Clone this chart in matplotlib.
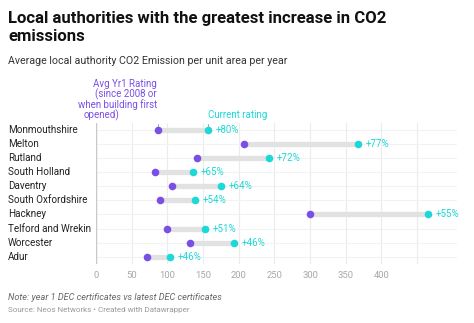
import matplotlib
matplotlib.use('Agg')
import matplotlib.pyplot as plt
from matplotlib.transforms import blended_transform_factory

plt.rcParams['font.family'] = ['Roboto', 'DejaVu Sans']

# данные
authorities = ['Monmouthshire', 'Melton', 'Rutland', 'South Holland', 'Daventry',
               'South Oxfordshire', 'Hackney', 'Telford and Wrekin', 'Worcester', 'Adur']
yr1_rating = [87, 207, 141, 83, 107, 90, 300, 100, 132, 71]
current_rating = [157, 367, 243, 136, 175, 139, 466, 153, 194, 104]
increase = ['+80%', '+77%', '+72%', '+65%', '+64%', '+54%', '+55%', '+51%', '+46%', '+46%']
x_ticks = [0, 50, 100, 150, 200, 250, 300, 350, 400]

purple = '#7a4fe6'
cyan = '#1cd8d8'

fig = plt.figure(figsize=(4.74, 3.23), dpi=100)
W, H = 474, 323
ax = fig.add_axes([96 / W, 1 - 263.7 / H, (457 - 96) / W, (263.7 - 123) / H])

rows = list(range(len(authorities)))
ax.set_xlim(0, 506)
ax.set_ylim(len(authorities) - 0.5, -0.5)

# сетка
for t in x_ticks + [450]:
    ax.axvline(t, color='#ececec', lw=0.8, zorder=0)
for r in rows:
    ax.axhline(r, color='#f2f2f2', lw=0.8, zorder=0)
ax.axvline(0, color='#c8c8c8', lw=1.0, zorder=1)

# полосы и точки
for r, a, b, p in zip(rows, yr1_rating, current_rating, increase):
    ax.plot([a, b], [r, r], color='#e2e2e2', lw=3.8, solid_capstyle='butt', zorder=2)
    ax.annotate(p, (b, r), xytext=(5.5, 0), textcoords='offset points',
                va='center', ha='left', fontsize=7, color=cyan)
ax.scatter(yr1_rating, rows, s=30, color=purple, zorder=3, linewidths=0)
ax.scatter(current_rating, rows, s=30, color=cyan, zorder=3, linewidths=0)

for s in ax.spines.values():
    s.set_visible(False)
ax.set_yticks([])
ax.set_xticks(x_ticks)
ax.set_xticklabels([str(t) for t in x_ticks], fontsize=6.8, color='#a8a8a8')
ax.tick_params(axis='x', length=0, pad=5)

# подписи строк
tr = blended_transform_factory(fig.transFigure, ax.transData)
for r, name in zip(rows, authorities):
    ax.text(8 / W, r, name, transform=tr, ha='left', va='center', fontsize=7.1, color='#222222')

# аннотации
ax.plot([yr1_rating[0], yr1_rating[0]], [-0.45, -0.15], color='#999999', lw=0.6, clip_on=False)
ax.plot([current_rating[0], current_rating[0]], [-0.45, -0.15], color='#999999', lw=0.6, clip_on=False)
for txt, yy in [('Avg Yr1 Rating', 84), ('(since 2008 or', 94.5), ('when building first', 105)]:
    fig.text(157 / W, 1 - yy / H, txt, ha='right', va='center', fontsize=7, color=purple)
fig.text(84 / W, 1 - 115.5 / H, 'opened)', ha='left', va='center', fontsize=7, color=purple)
fig.text(208 / W, 1 - 115.5 / H, 'Current rating', ha='left', va='center', fontsize=7, color=cyan)

# заголовки
fig.text(8 / W, 1 - 22.7 / H, 'Local authorities with the greatest increase in CO2',
         ha='left', va='baseline', fontsize=12, fontweight='bold', color='#111111')
fig.text(8 / W, 1 - 41 / H, 'emissions',
         ha='left', va='baseline', fontsize=12, fontweight='bold', color='#111111')
fig.text(8 / W, 1 - 64 / H, 'Average local authority CO2 Emission per unit area per year',
         ha='left', va='baseline', fontsize=7.7, color='#333333')
fig.text(8 / W, 1 - 297 / H, 'Note: year 1 DEC certificates vs latest DEC certificates',
         ha='left', va='center', fontsize=6.6, color='#666666', style='italic')
fig.text(8 / W, 1 - 310 / H, 'Source: Neos Networks \u2022 Created with Datawrapper',
         ha='left', va='center', fontsize=5.8, color='#999999')

fig.savefig('out.png', dpi=100)
